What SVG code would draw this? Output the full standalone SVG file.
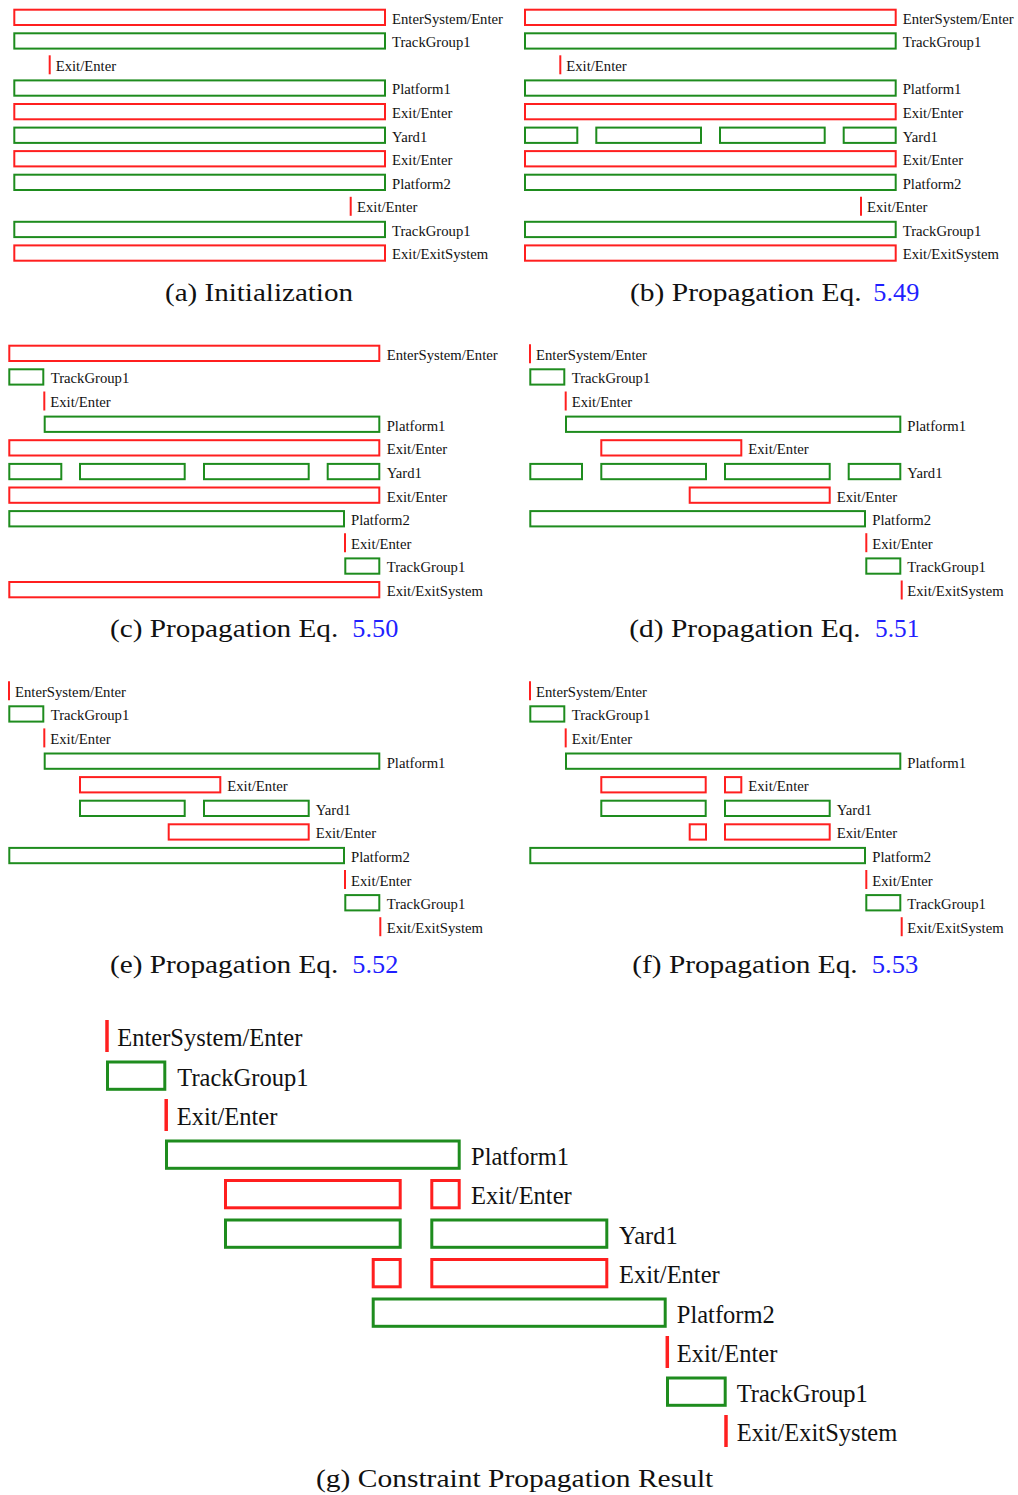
<svg xmlns="http://www.w3.org/2000/svg" width="1018" height="1495" viewBox="0 0 1018 1495">
<style>
.r{fill:none;stroke:#ff1f1f;stroke-width:2}
.g{fill:none;stroke:#1e8c1e;stroke-width:2}
.l{stroke:#ff1f1f;stroke-width:2}
.t{font-family:"Liberation Serif","Times New Roman",serif;font-size:14.7px;fill:#111}
.R{fill:none;stroke:#ff1f1f;stroke-width:3}
.G{fill:none;stroke:#1e8c1e;stroke-width:3}
.L{stroke:#ff1f1f;stroke-width:3.5}
.T{font-family:"Liberation Serif","Times New Roman",serif;font-size:24.5px;fill:#111}
.cap{font-family:"Liberation Serif","Times New Roman",serif;font-size:26px;fill:#111}
.num{fill:#1f1fff}
</style>
<rect width="1018" height="1495" fill="#fff"/>
<g id="connectors"/>

<!-- Panel (a) -->
<g id="panel-a">
<g id="a0"><rect class="r" x="14.3" y="9.7" width="370.7" height="15.3"/><text class="t" x="392" y="23.7">EnterSystem/Enter</text></g>
<g id="a1"><rect class="g" x="14.3" y="33.3" width="370.7" height="15.3"/><text class="t" x="392" y="47.3">TrackGroup1</text></g>
<g id="a2"><line class="l" x1="49.7" y1="55.3" x2="49.7" y2="74.3"/><text class="t" x="55.7" y="70.8">Exit/Enter</text></g>
<g id="a3"><rect class="g" x="14.3" y="80.4" width="370.7" height="15.3"/><text class="t" x="392" y="94.4">Platform1</text></g>
<g id="a4"><rect class="r" x="14.3" y="104" width="370.7" height="15.3"/><text class="t" x="392" y="118">Exit/Enter</text></g>
<g id="a5"><rect class="g" x="14.3" y="127.6" width="370.7" height="15.3"/><text class="t" x="392" y="141.6">Yard1</text></g>
<g id="a6"><rect class="r" x="14.3" y="151.1" width="370.7" height="15.3"/><text class="t" x="392" y="165.1">Exit/Enter</text></g>
<g id="a7"><rect class="g" x="14.3" y="174.7" width="370.7" height="15.3"/><text class="t" x="392" y="188.7">Platform2</text></g>
<g id="a8"><line class="l" x1="350.7" y1="196.8" x2="350.7" y2="215.8"/><text class="t" x="357" y="212.3">Exit/Enter</text></g>
<g id="a9"><rect class="g" x="14.3" y="221.8" width="370.7" height="15.3"/><text class="t" x="392" y="235.8">TrackGroup1</text></g>
<g id="a10"><rect class="r" x="14.3" y="245.4" width="370.7" height="15.3"/><text class="t" x="392" y="259.4">Exit/ExitSystem</text></g>
<text class="cap" x="165" y="301" textLength="188" lengthAdjust="spacingAndGlyphs">(a) Initialization</text>
</g>

<!-- Panel (b) -->
<g id="panel-b">
<g id="b0"><rect class="r" x="525" y="9.7" width="370.7" height="15.3"/><text class="t" x="902.7" y="23.7">EnterSystem/Enter</text></g>
<g id="b1"><rect class="g" x="525" y="33.3" width="370.7" height="15.3"/><text class="t" x="902.7" y="47.3">TrackGroup1</text></g>
<g id="b2"><line class="l" x1="560.3" y1="55.3" x2="560.3" y2="74.3"/><text class="t" x="566.3" y="70.8">Exit/Enter</text></g>
<g id="b3"><rect class="g" x="525" y="80.4" width="370.7" height="15.3"/><text class="t" x="902.7" y="94.4">Platform1</text></g>
<g id="b4"><rect class="r" x="525" y="104" width="370.7" height="15.3"/><text class="t" x="902.7" y="118">Exit/Enter</text></g>
<g id="b5"><rect class="g" x="525" y="127.6" width="52.3" height="15.3"/><rect class="g" x="596.3" y="127.6" width="104.7" height="15.3"/><rect class="g" x="720" y="127.6" width="104.7" height="15.3"/><rect class="g" x="843.7" y="127.6" width="52" height="15.3"/><text class="t" x="902.7" y="141.6">Yard1</text></g>
<g id="b6"><rect class="r" x="525" y="151.1" width="370.7" height="15.3"/><text class="t" x="902.7" y="165.1">Exit/Enter</text></g>
<g id="b7"><rect class="g" x="525" y="174.7" width="370.7" height="15.3"/><text class="t" x="902.7" y="188.7">Platform2</text></g>
<g id="b8"><line class="l" x1="861" y1="196.8" x2="861" y2="215.8"/><text class="t" x="867" y="212.3">Exit/Enter</text></g>
<g id="b9"><rect class="g" x="525" y="221.8" width="370.7" height="15.3"/><text class="t" x="902.7" y="235.8">TrackGroup1</text></g>
<g id="b10"><rect class="r" x="525" y="245.4" width="370.7" height="15.3"/><text class="t" x="902.7" y="259.4">Exit/ExitSystem</text></g>
<text class="cap" x="630" y="301" textLength="231.7" lengthAdjust="spacingAndGlyphs">(b) Propagation Eq.</text>
<text class="cap num" x="873.3" y="301" textLength="46" lengthAdjust="spacingAndGlyphs">5.49</text>
</g>

<!-- Panel (c) -->
<g id="panel-c">
<g id="c0"><rect class="r" x="9.3" y="345.7" width="370" height="15.3"/><text class="t" x="386.7" y="359.7">EnterSystem/Enter</text></g>
<g id="c1"><rect class="g" x="9.3" y="369.3" width="34" height="15.3"/><text class="t" x="50.7" y="383.3">TrackGroup1</text></g>
<g id="c2"><line class="l" x1="44.3" y1="391.5" x2="44.3" y2="410.5"/><text class="t" x="50.3" y="407">Exit/Enter</text></g>
<g id="c3"><rect class="g" x="44.7" y="416.6" width="334.6" height="15.3"/><text class="t" x="386.7" y="430.6">Platform1</text></g>
<g id="c4"><rect class="r" x="9.3" y="440.2" width="370" height="15.3"/><text class="t" x="386.7" y="454.2">Exit/Enter</text></g>
<g id="c5"><rect class="g" x="9.3" y="463.9" width="52" height="15.3"/><rect class="g" x="80" y="463.9" width="104.7" height="15.3"/><rect class="g" x="204" y="463.9" width="104.7" height="15.3"/><rect class="g" x="327.7" y="463.9" width="51.6" height="15.3"/><text class="t" x="386.7" y="477.9">Yard1</text></g>
<g id="c6"><rect class="r" x="9.3" y="487.5" width="370" height="15.3"/><text class="t" x="386.7" y="501.5">Exit/Enter</text></g>
<g id="c7"><rect class="g" x="9.3" y="511.1" width="334.7" height="15.3"/><text class="t" x="351" y="525.1">Platform2</text></g>
<g id="c8"><line class="l" x1="345" y1="533.2" x2="345" y2="552.2"/><text class="t" x="351" y="548.7">Exit/Enter</text></g>
<g id="c9"><rect class="g" x="345.3" y="558.4" width="34" height="15.3"/><text class="t" x="386.7" y="572.4">TrackGroup1</text></g>
<g id="c10"><rect class="r" x="9.3" y="582" width="370" height="15.3"/><text class="t" x="386.7" y="596">Exit/ExitSystem</text></g>
<text class="cap" x="110" y="636.7" textLength="228.3" lengthAdjust="spacingAndGlyphs">(c) Propagation Eq.</text>
<text class="cap num" x="352.3" y="636.7" textLength="46" lengthAdjust="spacingAndGlyphs">5.50</text>
</g>

<!-- Panel (d) -->
<g id="panel-d">
<g id="d0"><line class="l" x1="530" y1="344.2" x2="530" y2="363.2"/><text class="t" x="536" y="359.7">EnterSystem/Enter</text></g>
<g id="d1"><rect class="g" x="530.3" y="369.3" width="34" height="15.3"/><text class="t" x="571.7" y="383.3">TrackGroup1</text></g>
<g id="d2"><line class="l" x1="565.7" y1="391.5" x2="565.7" y2="410.5"/><text class="t" x="571.7" y="407">Exit/Enter</text></g>
<g id="d3"><rect class="g" x="566" y="416.6" width="334.3" height="15.3"/><text class="t" x="907.3" y="430.6">Platform1</text></g>
<g id="d4"><rect class="r" x="601.3" y="440.2" width="140" height="15.3"/><text class="t" x="748.3" y="454.2">Exit/Enter</text></g>
<g id="d5"><rect class="g" x="530.3" y="463.9" width="51.7" height="15.3"/><rect class="g" x="601.3" y="463.9" width="104.7" height="15.3"/><rect class="g" x="725" y="463.9" width="104.7" height="15.3"/><rect class="g" x="848.7" y="463.9" width="51.6" height="15.3"/><text class="t" x="907.3" y="477.9">Yard1</text></g>
<g id="d6"><rect class="r" x="689.7" y="487.5" width="140" height="15.3"/><text class="t" x="836.7" y="501.5">Exit/Enter</text></g>
<g id="d7"><rect class="g" x="530.3" y="511.1" width="334.7" height="15.3"/><text class="t" x="872.3" y="525.1">Platform2</text></g>
<g id="d8"><line class="l" x1="866.3" y1="533.2" x2="866.3" y2="552.2"/><text class="t" x="872.3" y="548.7">Exit/Enter</text></g>
<g id="d9"><rect class="g" x="866.3" y="558.4" width="34" height="15.3"/><text class="t" x="907.3" y="572.4">TrackGroup1</text></g>
<g id="d10"><line class="l" x1="901.7" y1="580.5" x2="901.7" y2="599.5"/><text class="t" x="907.3" y="596">Exit/ExitSystem</text></g>
<text class="cap" x="629.3" y="636.7" textLength="231.4" lengthAdjust="spacingAndGlyphs">(d) Propagation Eq.</text>
<text class="cap num" x="875" y="636.7" textLength="44.3" lengthAdjust="spacingAndGlyphs">5.51</text>
</g>

<!-- Panel (e) -->
<g id="panel-e">
<g id="e0"><line class="l" x1="9" y1="681.2" x2="9" y2="700.2"/><text class="t" x="15" y="696.7">EnterSystem/Enter</text></g>
<g id="e1"><rect class="g" x="9.3" y="706.3" width="34" height="15.3"/><text class="t" x="50.7" y="720.3">TrackGroup1</text></g>
<g id="e2"><line class="l" x1="44.3" y1="728.4" x2="44.3" y2="747.4"/><text class="t" x="50.3" y="743.9">Exit/Enter</text></g>
<g id="e3"><rect class="g" x="44.7" y="753.5" width="334.6" height="15.3"/><text class="t" x="386.7" y="767.5">Platform1</text></g>
<g id="e4"><rect class="r" x="80" y="777.1" width="140.3" height="15.3"/><text class="t" x="227.3" y="791.1">Exit/Enter</text></g>
<g id="e5"><rect class="g" x="80" y="800.7" width="104.7" height="15.3"/><rect class="g" x="204" y="800.7" width="104.7" height="15.3"/><text class="t" x="315.7" y="814.7">Yard1</text></g>
<g id="e6"><rect class="r" x="168.7" y="824.3" width="140" height="15.3"/><text class="t" x="315.7" y="838.3">Exit/Enter</text></g>
<g id="e7"><rect class="g" x="9.3" y="847.9" width="334.7" height="15.3"/><text class="t" x="351" y="861.9">Platform2</text></g>
<g id="e8"><line class="l" x1="345" y1="870" x2="345" y2="889"/><text class="t" x="351" y="885.5">Exit/Enter</text></g>
<g id="e9"><rect class="g" x="345.3" y="895.1" width="34" height="15.3"/><text class="t" x="386.7" y="909.1">TrackGroup1</text></g>
<g id="e10"><line class="l" x1="380.3" y1="917.2" x2="380.3" y2="936.2"/><text class="t" x="386.7" y="932.7">Exit/ExitSystem</text></g>
<text class="cap" x="110" y="973.3" textLength="228.3" lengthAdjust="spacingAndGlyphs">(e) Propagation Eq.</text>
<text class="cap num" x="352.3" y="973.3" textLength="46" lengthAdjust="spacingAndGlyphs">5.52</text>
</g>

<!-- Panel (f) -->
<g id="panel-f">
<g id="f0"><line class="l" x1="530" y1="681.2" x2="530" y2="700.2"/><text class="t" x="536" y="696.7">EnterSystem/Enter</text></g>
<g id="f1"><rect class="g" x="530.3" y="706.3" width="34" height="15.3"/><text class="t" x="571.7" y="720.3">TrackGroup1</text></g>
<g id="f2"><line class="l" x1="565.7" y1="728.4" x2="565.7" y2="747.4"/><text class="t" x="571.7" y="743.9">Exit/Enter</text></g>
<g id="f3"><rect class="g" x="566" y="753.5" width="334.3" height="15.3"/><text class="t" x="907.3" y="767.5">Platform1</text></g>
<g id="f4"><rect class="r" x="601.3" y="777.1" width="104.4" height="15.3"/><rect class="r" x="725" y="777.1" width="16.3" height="15.3"/><text class="t" x="748.3" y="791.1">Exit/Enter</text></g>
<g id="f5"><rect class="g" x="601.3" y="800.7" width="104.4" height="15.3"/><rect class="g" x="725" y="800.7" width="104.7" height="15.3"/><text class="t" x="836.7" y="814.7">Yard1</text></g>
<g id="f6"><rect class="r" x="689.7" y="824.3" width="16.3" height="15.3"/><rect class="r" x="725" y="824.3" width="104.7" height="15.3"/><text class="t" x="836.7" y="838.3">Exit/Enter</text></g>
<g id="f7"><rect class="g" x="530.3" y="847.9" width="334.7" height="15.3"/><text class="t" x="872.3" y="861.9">Platform2</text></g>
<g id="f8"><line class="l" x1="866.3" y1="870" x2="866.3" y2="889"/><text class="t" x="872.3" y="885.5">Exit/Enter</text></g>
<g id="f9"><rect class="g" x="866.3" y="895.1" width="34" height="15.3"/><text class="t" x="907.3" y="909.1">TrackGroup1</text></g>
<g id="f10"><line class="l" x1="901.7" y1="917.2" x2="901.7" y2="936.2"/><text class="t" x="907.3" y="932.7">Exit/ExitSystem</text></g>
<text class="cap" x="632.3" y="973.3" textLength="225.4" lengthAdjust="spacingAndGlyphs">(f) Propagation Eq.</text>
<text class="cap num" x="871.7" y="973.3" textLength="46.6" lengthAdjust="spacingAndGlyphs">5.53</text>
</g>

<!-- Panel (g) -->
<g id="panel-g">
<g id="g0"><line class="L" x1="107" y1="1020" x2="107" y2="1052"/><text class="T" x="117.3" y="1046">EnterSystem/Enter</text></g>
<g id="g1"><rect class="G" x="107.5" y="1062" width="57.3" height="27.3"/><text class="T" x="177.3" y="1085.5">TrackGroup1</text></g>
<g id="g2"><line class="L" x1="166.2" y1="1099" x2="166.2" y2="1131"/><text class="T" x="176.7" y="1125">Exit/Enter</text></g>
<g id="g3"><rect class="G" x="166.5" y="1141" width="292.7" height="27.3"/><text class="T" x="471" y="1164.5">Platform1</text></g>
<g id="g4"><rect class="R" x="225.5" y="1180.5" width="174.7" height="27.3"/><rect class="R" x="431.8" y="1180.5" width="27.4" height="27.3"/><text class="T" x="471" y="1204">Exit/Enter</text></g>
<g id="g5"><rect class="G" x="225.5" y="1220" width="174.7" height="27.3"/><rect class="G" x="431.8" y="1220" width="175" height="27.3"/><text class="T" x="619" y="1243.5">Yard1</text></g>
<g id="g6"><rect class="R" x="373.2" y="1259.5" width="27" height="27.3"/><rect class="R" x="431.8" y="1259.5" width="175" height="27.3"/><text class="T" x="619" y="1283">Exit/Enter</text></g>
<g id="g7"><rect class="G" x="373.2" y="1299" width="292" height="27.3"/><text class="T" x="676.8" y="1322.5">Platform2</text></g>
<g id="g8"><line class="L" x1="667.3" y1="1336" x2="667.3" y2="1368"/><text class="T" x="676.7" y="1362">Exit/Enter</text></g>
<g id="g9"><rect class="G" x="667.5" y="1378" width="57.7" height="27.3"/><text class="T" x="736.7" y="1401.5">TrackGroup1</text></g>
<g id="g10"><line class="L" x1="726" y1="1415" x2="726" y2="1447"/><text class="T" x="736.7" y="1441">Exit/ExitSystem</text></g>
<text class="cap" x="316" y="1487" textLength="397.3" lengthAdjust="spacingAndGlyphs">(g) Constraint Propagation Result</text>
</g>
</svg>
